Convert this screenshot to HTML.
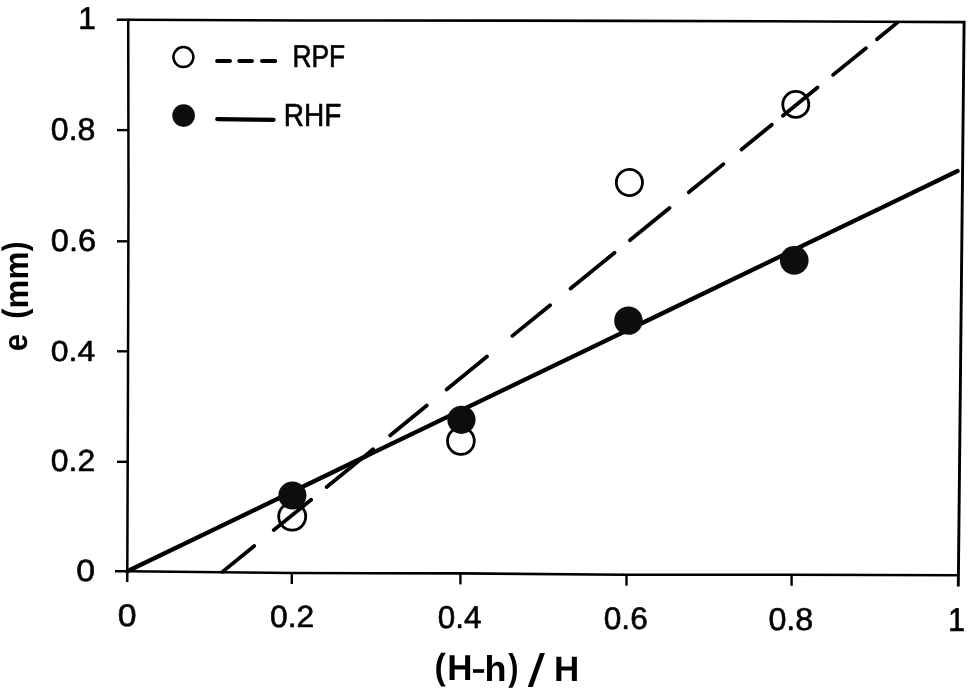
<!DOCTYPE html>
<html><head><meta charset="utf-8"><style>
html,body{margin:0;padding:0;background:#fff;}
svg{display:block;}
text{text-rendering:geometricPrecision;font-family:"Liberation Sans",sans-serif;font-size:100px;fill:#000;}
</style></head><body>
<svg width="969" height="691" viewBox="0 0 969 691">
<defs><filter id="soft" x="0" y="0" width="969" height="691" filterUnits="userSpaceOnUse"><feGaussianBlur stdDeviation="0.45"/></filter></defs>
<rect width="969" height="691" fill="#fff"/>
<g filter="url(#soft)">
<g stroke="#000" stroke-linecap="butt" stroke-linejoin="round" fill="none">
<polyline points="116.8,19.7 128.2,19.8 305,20.5 515,20.6 765,21.3 965.2,22.1" stroke-width="2.6"/>
<line x1="964.1" y1="21" x2="958.3" y2="586.4" stroke-width="2.9"/>
<polyline points="128.2,18.8 128.5,190 127.9,410 127.3,571.3 127.2,582" stroke-width="2.5"/>
<polyline points="115,571.2 127.3,571.3 292,573.0 460,573.4 626,574.7 791,574.8 959.5,575.3" stroke-width="2.6"/>
<line x1="117" y1="130.1" x2="128" y2="130.1" stroke-width="2.4"/>
<line x1="117" y1="241.3" x2="128" y2="241.3" stroke-width="2.4"/>
<line x1="117" y1="351.3" x2="128" y2="351.3" stroke-width="2.4"/>
<line x1="117" y1="461.8" x2="128" y2="461.8" stroke-width="2.4"/>
<line x1="291.8" y1="573.0" x2="291.8" y2="584.0" stroke-width="2.4"/>
<line x1="460.4" y1="573.4" x2="460.4" y2="584.4" stroke-width="2.4"/>
<line x1="626.5" y1="574.7" x2="626.5" y2="585.7" stroke-width="2.4"/>
<line x1="791.6" y1="574.8" x2="791.6" y2="585.8" stroke-width="2.4"/>
</g>
<g stroke="#000" stroke-width="4.3" stroke-linecap="round">
<line x1="127.3" y1="571.3" x2="957.5" y2="171.0"/>
</g>
<g stroke="#000" stroke-width="3.8" stroke-linecap="round">
<line x1="222.40" y1="571.88" x2="254.23" y2="545.98"/>
<line x1="273.77" y1="530.07" x2="311.13" y2="499.67"/>
<line x1="326.67" y1="487.02" x2="373.03" y2="449.30"/>
<line x1="390.07" y1="435.42" x2="426.83" y2="405.51"/>
<line x1="446.57" y1="389.44" x2="487.03" y2="356.52"/>
<line x1="512.37" y1="335.89" x2="550.13" y2="305.17"/>
<line x1="570.57" y1="288.53" x2="614.53" y2="252.76"/>
<line x1="629.87" y1="240.27" x2="669.53" y2="208.00"/>
<line x1="688.77" y1="192.34" x2="723.43" y2="164.14"/>
<line x1="741.47" y1="149.45" x2="771.83" y2="124.75"/>
<line x1="782.87" y1="115.76" x2="817.53" y2="87.56"/>
<line x1="833.07" y1="74.90" x2="865.93" y2="48.17"/>
<line x1="876.97" y1="39.18" x2="897.30" y2="22.64"/>
</g>
<g fill="none" stroke="#000" stroke-width="2.8">
<circle cx="292.2" cy="516.6" r="13.5"/>
<circle cx="460.9" cy="441.0" r="13.4"/>
<circle cx="629.4" cy="182.5" r="13.1"/>
<circle cx="795.8" cy="104.4" r="13.0"/>
</g>
<g fill="#0c0c0c">
<circle cx="292.4" cy="495.5" r="14.0"/>
<circle cx="461.45" cy="419.8" r="14.1"/>
<circle cx="628.4" cy="320.65" r="14.2"/>
<circle cx="794.25" cy="260.4" r="14.3"/>
</g>
<g>
<circle cx="183.4" cy="57.1" r="10.0" fill="#fff" stroke="#000" stroke-width="2.5"/>
<circle cx="183.6" cy="115.6" r="11.3" fill="#0c0c0c"/>
<g stroke="#000" stroke-width="4.2" stroke-linecap="round">
<line x1="217.2" y1="61" x2="229.9" y2="61"/>
<line x1="239.4" y1="61" x2="251.9" y2="61"/>
<line x1="262.1" y1="61" x2="275.1" y2="61"/>
<line x1="217.2" y1="119.1" x2="273.6" y2="119.8"/>
</g>
</g>
<g>
<text transform="translate(50.81,139.59) scale(0.3214,0.3141)" font-weight="normal" stroke="#000" stroke-width="1.89" stroke-linejoin="round">0.8</text>
<text transform="translate(50.80,250.99) scale(0.3260,0.3113)" font-weight="normal" stroke="#000" stroke-width="1.88" stroke-linejoin="round">0.6</text>
<text transform="translate(50.82,360.91) scale(0.3189,0.2887)" font-weight="normal" stroke="#000" stroke-width="1.98" stroke-linejoin="round">0.4</text>
<text transform="translate(50.82,470.89) scale(0.3192,0.3056)" font-weight="normal" stroke="#000" stroke-width="1.92" stroke-linejoin="round">0.2</text>
<text transform="translate(76.35,580.89) scale(0.3375,0.3056)" font-weight="normal" stroke="#000" stroke-width="1.87" stroke-linejoin="round">0</text>
<text transform="translate(117.75,625.89) scale(0.3375,0.3113)" font-weight="normal" stroke="#000" stroke-width="1.85" stroke-linejoin="round">0</text>
<text transform="translate(270.03,627.49) scale(0.3185,0.3070)" font-weight="normal" stroke="#000" stroke-width="1.92" stroke-linejoin="round">0.2</text>
<text transform="translate(437.84,627.59) scale(0.3144,0.3141)" font-weight="normal" stroke="#000" stroke-width="1.91" stroke-linejoin="round">0.4</text>
<text transform="translate(603.73,629.49) scale(0.3168,0.3113)" font-weight="normal" stroke="#000" stroke-width="1.91" stroke-linejoin="round">0.6</text>
<text transform="translate(768.41,629.98) scale(0.3229,0.3155)" font-weight="normal" stroke="#000" stroke-width="1.88" stroke-linejoin="round">0.8</text>
<text transform="translate(292.39,66.90) scale(0.2638,0.3145)" font-weight="normal" stroke="#000" stroke-width="2.08" stroke-linejoin="round">RPF</text>
<text transform="translate(283.76,126.10) scale(0.2799,0.3203)" font-weight="normal" stroke="#000" stroke-width="2.00" stroke-linejoin="round">RHF</text>
<text transform="translate(78.22,29.35) scale(0.3163,0.3130)" font-weight="normal" stroke="#000" stroke-width="2.22" stroke-linejoin="round">1</text>
<text transform="translate(948.25,631.45) scale(0.3000,0.3304)" font-weight="normal" stroke="#000" stroke-width="2.22" stroke-linejoin="round">1</text>
<text transform="translate(434.50,678.69) scale(0.3393,0.3626)" font-weight="bold">(</text>
<text transform="translate(447.13,680.10) scale(0.3492,0.3594)" font-weight="bold">H</text>
<text transform="translate(471.14,678.87) scale(0.4392,0.3083)" font-weight="bold">-</text>
<text transform="translate(484.48,680.50) scale(0.3604,0.3586)" font-weight="bold">h</text>
<text transform="translate(508.15,679.71) scale(0.3071,0.3711)" font-weight="bold">)</text>
<text transform="translate(553.93,681.30) scale(0.3492,0.3522)" font-weight="bold">H</text>
<text transform="translate(27.36,351.35) rotate(-90) scale(0.3125,0.3364)" font-weight="bold">e</text>
<text transform="translate(26.08,318.75) rotate(-90) scale(0.3107,0.3390)" font-weight="bold">(</text>
<text transform="translate(27.80,308.50) rotate(-90) scale(0.3224,0.3352)" font-weight="bold">m</text>
<text transform="translate(27.80,279.54) rotate(-90) scale(0.3145,0.3389)" font-weight="bold">m</text>
<text transform="translate(25.88,251.15) rotate(-90) scale(0.2929,0.3390)" font-weight="bold">)</text>
<text transform="translate(527.59,685.69) scale(0.425,0.4564) skewX(-11.1)" font-weight="bold">/</text>
</g>
</g>
</svg>
</body></html>
